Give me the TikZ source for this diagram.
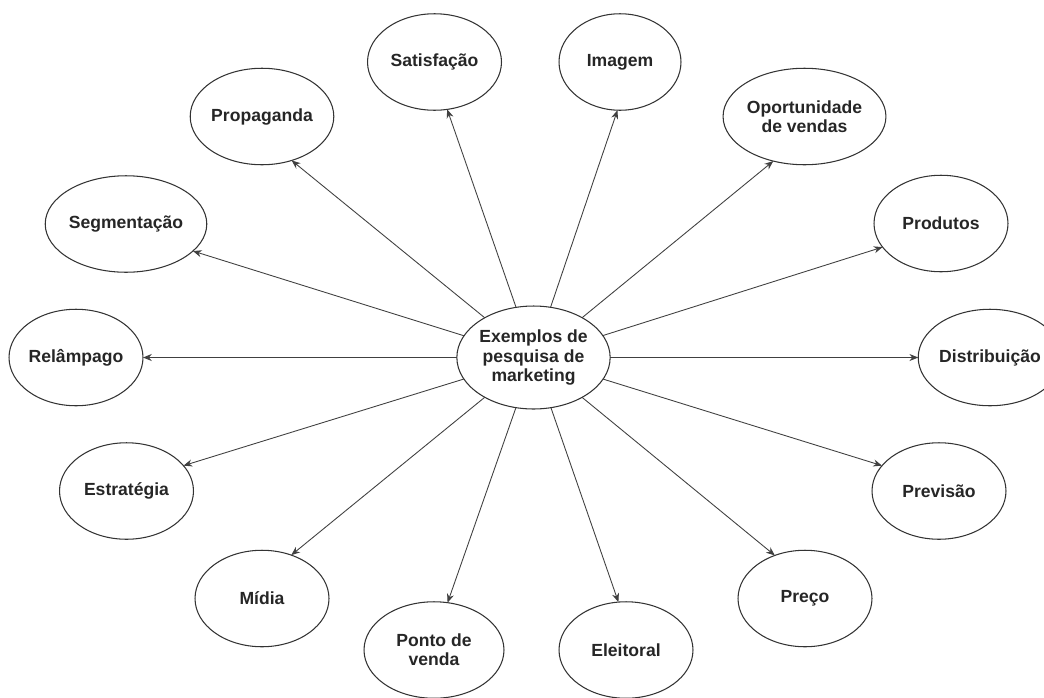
\documentclass[tikz,border=0pt]{standalone}
\usepackage{fontspec}
\setmainfont{Liberation Sans}
\usetikzlibrary{shapes.geometric,arrows.meta}
\begin{document}
\begin{tikzpicture}[x=0.02cm,y=-0.02cm,
 bub/.style={ellipse,draw=black!80,line width=0.6pt,minimum width=2.68cm,minimum height=1.93cm,inner sep=0pt,outer sep=0pt,font=\bfseries\fontsize{10}{11}\selectfont,align=center,text=black!85},
 con/.style={draw=black!75,line width=0.5pt,-{Stealth[length=5pt,width=4pt]}}]
\useasboundingbox (0,0) rectangle (1044,697);
\clip (0,0) rectangle (1044,697);
\node[bub,minimum width=2.9cm,minimum height=2.06cm] (c) at (533.5,357.5) {Exemplos de\\pesquisa de\\marketing};
\node[bub] (sat) at (434.5,62) {Satisfação};
\node[bub,minimum width=2.44cm] (ima) at (620,62) {Imagem};
\node[bub] (opo) at (804.5,116.5) {Oportunidade\\de vendas};
\node[bub] (pro) at (941,223.5) {Produtos};
\node[bub] (dis) at (990,357.5) {Distribuição};
\node[bub] (pre) at (939,491) {Previsão};
\node[bub] (prc) at (805,598.5) {Preço};
\node[bub] (ele) at (626,650) {Eleitoral};
\node[bub,minimum width=2.8cm] (pon) at (434,650) {Ponto de\\venda};
\node[bub] (mid) at (262,598.5) {Mídia};
\node[bub] (est) at (126.5,491) {Estratégia};
\node[bub] (rel) at (76,357.5) {Relâmpago};
\node[bub] (seg) at (126,224) {Segmentação};
\node[bub] (pgd) at (262,116.5) {Propaganda};
\draw[con] (c) -- (sat.-75);
\draw[con] (c) -- (ima.-93);
\draw[con] (c) -- (opo.-125);
\draw[con] (c) -- (pro.202);
\draw[con] (c) -- (dis.180);
\draw[con] (c) -- (pre.156);
\draw[con] (c) -- (prc.125);
\draw[con] (c) -- (ele.99);
\draw[con] (c) -- (pon.74);
\draw[con] (c) -- (mid.56);
\draw[con] (c) -- (est.24);
\draw[con] (c) -- (rel.0);
\draw[con] (c) -- (seg.-22);
\draw[con] (c) -- (pgd.-56);
\end{tikzpicture}
\end{document}
